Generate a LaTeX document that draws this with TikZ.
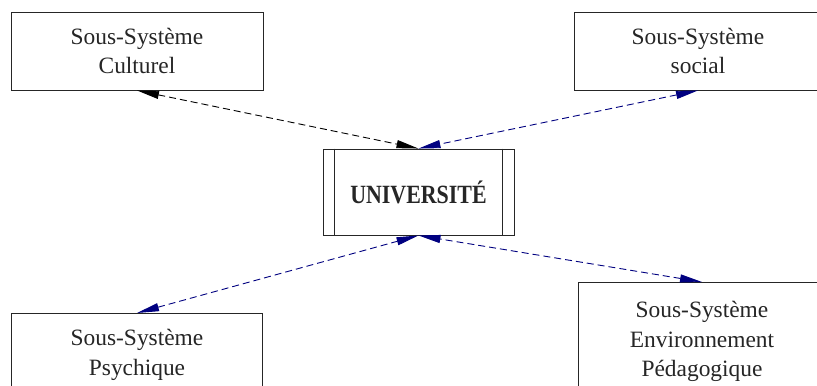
\documentclass[tikz,border=0pt]{standalone}
\usepackage{fontspec}
\setmainfont{Liberation Serif}
\usetikzlibrary{arrows.meta}
\definecolor{navy}{HTML}{000080}
\tikzset{
  sysbox/.style={draw=black!85, line width=0.9bp, rectangle, inner sep=0pt, align=center,
    font=\fontsize{23.5}{30}\selectfont, text=black!85},
  link/.style={line width=0.9bp, dash pattern=on 7bp off 4bp,
    {Triangle[length=22bp,width=8bp]}-{Triangle[length=22bp,width=8bp]}},
}
\begin{document}
\begin{tikzpicture}[x=1bp,y=-1bp]
\path[use as bounding box] (0,0) rectangle (817,385);
\clip (0,0) rectangle (817,385);
\fill[white] (0,0) rectangle (817,385);
\node[sysbox, minimum width=252bp, minimum height=78bp] (cult) at (137,51) {Sous-Système\\Culturel};
\node[sysbox, minimum width=248bp, minimum height=78bp] (soc) at (698,51) {Sous-Système\\social};
\node[sysbox, minimum width=191bp, minimum height=86bp] (univ) at (418.5,192) {};
\node[font=\fontsize{22}{26}\bfseries, text=black!85, yscale=1.2, transform shape, inner sep=0pt] (univtext) at (univ.center) {UNIVERSITÉ};
\draw[draw=black!85, line width=0.9bp] ([xshift=12bp]univ.north west) -- ([xshift=12bp]univ.south west);
\draw[draw=black!85, line width=0.9bp] ([xshift=-12bp]univ.north east) -- ([xshift=-12bp]univ.south east);
\node[sysbox, minimum width=251bp, minimum height=82bp, anchor=north] (psy) at (137,313) {Sous-Système\\Psychique};
\node[sysbox, minimum width=248bp, minimum height=118bp, anchor=north] (env) at (702,282) {Sous-Système\\Environnement\\Pédagogique};
\draw[link, black] (cult.south) -- (univ.north);
\draw[link, navy] (soc.south) -- (univ.north);
\draw[link, navy] (psy.north) -- (univ.south);
\draw[link, navy] (env.north) -- (univ.south);
\end{tikzpicture}
\end{document}
